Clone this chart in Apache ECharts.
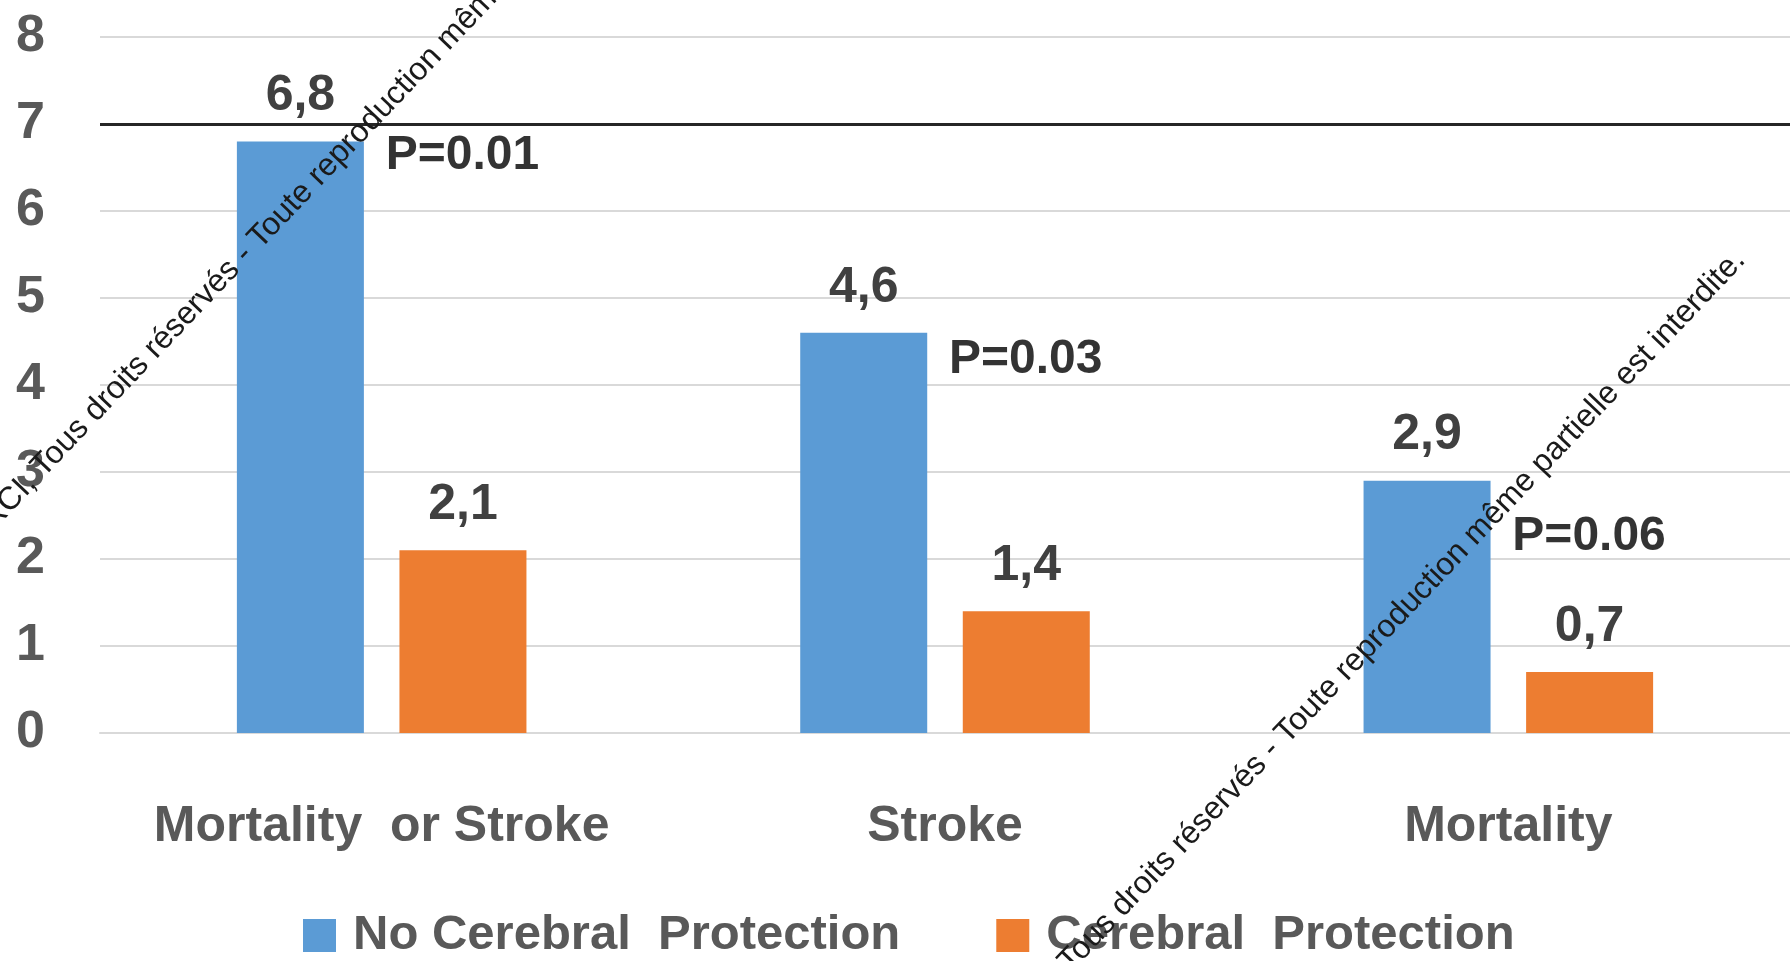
<!DOCTYPE html>
<html>
<head>
<meta charset="utf-8">
<title>Cerebral protection</title>
<script src="https://cdn.jsdelivr.net/npm/echarts@6/dist/echarts.min.js"></script>
<style>
    html, body { margin: 0; padding: 0; background: #fff; }
    #chartBox { width: 1790px; height: 961px; }
</style>
</head>
<body>
<div id="chartBox"></div>
<script>
// 数据
var categories = ['Mortality  or Stroke', 'Stroke', 'Mortality'];
var noProtection = [6.8, 4.6, 2.9];
var protection = [2.1, 1.4, 0.7];
var pValues = ['P=0.01', 'P=0.03', 'P=0.06'];
var pLevels = [6.63, 4.29, 2.26]; // height of the p-value text, in axis units
var yMin = 0, yMax = 8, yStep = 1;
var refLine = 7;
var seriesNames = ['No Cerebral  Protection', 'Cerebral  Protection'];
var notice = 'GRCI, Tous droits réservés - Toute reproduction même partielle est interdite.';

var font = "'Liberation Sans', Arial, sans-serif";
var chartLine = echarts.init(document.getElementById('chartBox'));

var pData = [];
for (var i = 0; i < pValues.length; i++) {
    pData.push([i, pLevels[i]]);
}

function comma(p) {
    return String(p.value).replace('.', ',');
}

// texte en diagonale (filigrane)
function noticeText(x, y) {
    return {
        type: 'text',
        x: x,
        y: y,
        z: 100,
        rotation: 46.5 * Math.PI / 180,
        silent: true,
        style: { text: notice, fill: '#1a1a1a', font: '32px ' + font, textAlign: 'right', textVerticalAlign: 'middle' }
    };
}

var option = {
    animation: false,
    backgroundColor: '#fff',
    color: ['#5b9bd5', '#ed7d31'],
    textStyle: { fontFamily: font },
    grid: { left: 100, right: 0, top: 37, bottom: 228 },
    legend: {
        data: seriesNames,
        left: 298,
        top: 906,
        icon: 'rect',
        itemWidth: 33,
        itemHeight: 33,
        itemGap: 96,
        selectedMode: false,
        textStyle: {
            color: '#595959',
            fontSize: 49,
            fontWeight: 'bold',
            fontFamily: font,
            padding: [0, 0, 0, 12]
        }
    },
    xAxis: {
        type: 'category',
        data: categories,
        axisLine: { lineStyle: { color: '#d9d9d9', width: 2 } },
        axisTick: { show: false },
        axisLabel: {
            interval: 0,
            color: '#595959',
            fontSize: 50,
            fontWeight: 'bold',
            fontFamily: font,
            margin: 69
        }
    },
    yAxis: {
        type: 'value',
        min: yMin,
        max: yMax,
        interval: yStep,
        axisLine: { show: false },
        axisTick: { show: false },
        splitLine: { lineStyle: { color: '#d9d9d9', width: 2 } },
        axisLabel: {
            color: '#595959',
            fontSize: 52,
            fontWeight: 'bold',
            fontFamily: font,
            margin: 55
        }
    },
    series: [
        {
            name: seriesNames[0],
            type: 'bar',
            data: noProtection,
            barWidth: 127,
            barGap: '28%',
            label: {
                show: true,
                position: 'top',
                distance: 20,
                color: '#404040',
                fontSize: 50,
                fontWeight: 'bold',
                fontFamily: font,
                formatter: comma
            },
            markLine: {
                silent: true,
                symbol: 'none',
                label: { show: false },
                lineStyle: { color: '#262626', width: 3, type: 'solid' },
                data: [{ yAxis: refLine }]
            }
        },
        {
            name: seriesNames[1],
            type: 'bar',
            data: protection,
            barWidth: 127,
            barGap: '28%',
            label: {
                show: true,
                position: 'top',
                distance: 20,
                color: '#404040',
                fontSize: 50,
                fontWeight: 'bold',
                fontFamily: font,
                formatter: comma
            }
        },
        {
            name: 'p',
            type: 'scatter',
            data: pData,
            symbolSize: 0,
            silent: true,
            label: {
                show: true,
                position: 'right',
                distance: 4,
                color: '#000',
                fontSize: 48,
                fontWeight: 'bold',
                fontFamily: font,
                formatter: function (p) {
                    return pValues[p.dataIndex];
                }
            }
        }
    ],
    graphic: [
        noticeText(713, -240),
        noticeText(1740, 255)
    ]
};
chartLine.setOption(option);
</script>
</body>
</html>
